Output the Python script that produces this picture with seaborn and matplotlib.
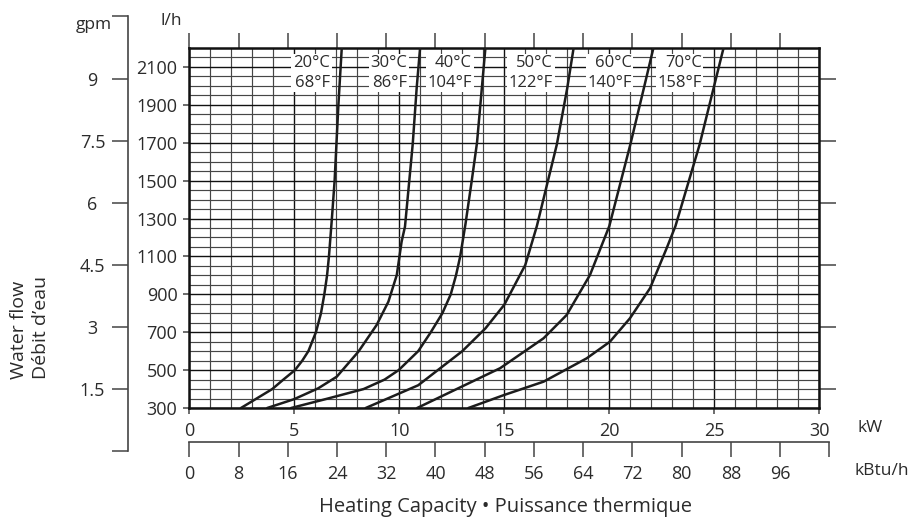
import numpy as np
import pandas as pd
import matplotlib
matplotlib.use("Agg")
import matplotlib.pyplot as plt
import seaborn as sns
from matplotlib.ticker import MultipleLocator, FixedLocator

# ---- data: heating capacity (kW) against water flow (l/h) per water temperature
temps_c = ["20°C", "30°C", "40°C", "50°C", "60°C", "70°C"]
temps_f = ["68°F", "86°F", "104°F", "122°F", "140°F", "158°F"]

kw_20 = [2.46, 3.95, 4.48, 5.03, 5.38, 5.67, 6.03, 6.27, 6.43, 6.56, 6.65, 6.79, 6.92, 7.10, 7.26]
lh_20 = [300, 400, 450, 500, 550, 600, 700, 800, 900, 1000, 1100, 1300, 1500, 1900, 2200]

kw_30 = [3.71, 5.00, 6.14, 7.02, 8.05, 8.92, 9.48, 9.88, 10.11, 10.27, 10.64, 10.83, 10.99]
lh_30 = [300, 347, 404, 465, 597, 738, 861, 1002, 1178, 1257, 1694, 1993, 2200]

kw_40 = [4.85, 6.60, 8.30, 9.30, 9.97, 10.90, 11.50, 12.05, 12.45, 12.70, 12.90, 13.15, 13.45, 13.70, 14.10]
lh_40 = [300, 350, 400, 450, 500, 600, 700, 800, 900, 1000, 1100, 1270, 1500, 1700, 2200]

kw_50 = [8.40, 10.90, 13.00, 14.10, 15.00, 16.00, 16.55, 17.50, 18.00, 18.30]
lh_50 = [300, 420, 600, 720, 845, 1055, 1260, 1690, 1990, 2200]

kw_60 = [10.85, 14.80, 16.87, 17.97, 19.08, 20.00, 21.00, 21.65, 22.10]
lh_60 = [300, 510, 668, 791, 1002, 1260, 1690, 1990, 2200]

kw_70 = [13.29, 15.00, 16.87, 18.92, 20.03, 20.98, 21.94, 22.73, 23.15, 24.30, 24.97, 25.44]
lh_70 = [300, 369, 439, 562, 650, 773, 932, 1143, 1260, 1690, 1990, 2200]

kw_series = [kw_20, kw_30, kw_40, kw_50, kw_60, kw_70]
lh_series = [lh_20, lh_30, lh_40, lh_50, lh_60, lh_70]

kw_ticks = [0, 5, 10, 15, 20, 25, 30]
kbtu_ticks = [0, 8, 16, 24, 32, 40, 48, 56, 64, 72, 80, 88, 96, 104]
lh_ticks = [300, 500, 700, 900, 1100, 1300, 1500, 1700, 1900, 2100]
gpm_ticks = [1.5, 3, 4.5, 6, 7.5, 9]

KBTU_PER_KW = 3.412
LH_PER_GPM = 218.4      # vertical scale of the gpm bracket
GPM_ZERO_LH = 71.4      # l/h level where the gpm bracket starts

rows = []
for tc, xs, ys in zip(temps_c, kw_series, lh_series):
    for x, y in zip(xs, ys):
        rows.append({"curve": tc, "kW": x, "lh": y})
df = pd.DataFrame(rows)

# ---- figure
sns.set_theme(style="white")
plt.rcParams["font.family"] = ["Open Sans", "DejaVu Sans"]
FS = 13
TXT = "#2b2b2b"
AXC = "#444444"
plt.rcParams["font.size"] = FS

W, H = 913, 519
fig = plt.figure(figsize=(W / 100, H / 100), dpi=100)

x0, x1, ytop, ybot = 189.3, 819.3, 48.0, 408.0
ax = fig.add_axes([x0 / W, 1 - ybot / H, (x1 - x0) / W, (ybot - ytop) / H])

sns.lineplot(data=df, x="kW", y="lh", hue="curve", palette=["#1c1c1c"] * 6,
             estimator=None, sort=False, legend=False, linewidth=1.8, ax=ax, zorder=5)

ax.set_xlim(0, 30)
ax.set_ylim(300, 2200)
ax.set_xlabel("")
ax.set_ylabel("")

ax.xaxis.set_major_locator(FixedLocator(kw_ticks))
ax.xaxis.set_minor_locator(MultipleLocator(1))
ax.yaxis.set_major_locator(FixedLocator(lh_ticks))
ax.yaxis.set_minor_locator(MultipleLocator(50))
ax.set_xticklabels([str(v) for v in kw_ticks])
ax.set_yticklabels([str(v) for v in lh_ticks])

ax.grid(which="minor", color="#464646", linewidth=0.85)
ax.grid(which="major", color="#111111", linewidth=1.0)
ax.set_axisbelow(True)

ax.tick_params(which="minor", length=0)
ax.tick_params(axis="x", which="major", direction="out", length=4, width=1.1,
               color=AXC, pad=6, labelsize=FS, labelcolor=TXT, top=False, bottom=True)
ax.tick_params(axis="y", which="major", direction="out", length=4.5, width=1.1,
               color=AXC, pad=4, labelsize=FS, labelcolor=TXT, left=True, right=False)
for s in ax.spines.values():
    s.set_visible(True)
    s.set_color("#111111")
    s.set_linewidth(1.8)

# kBtu/h ticks along the top edge
top = ax.secondary_xaxis("top", functions=(lambda k: k * KBTU_PER_KW, lambda b: b / KBTU_PER_KW))
top.set_xticks(kbtu_ticks[:-1])
top.tick_params(direction="out", length=11, width=1.1, color=AXC, top=True, labeltop=False)
top.spines["top"].set_visible(False)

# gpm ticks along the right edge
right = ax.secondary_yaxis("right", functions=(lambda q: (q - GPM_ZERO_LH) / LH_PER_GPM,
                                               lambda g: g * LH_PER_GPM + GPM_ZERO_LH))
right.set_yticks(gpm_ticks)
right.tick_params(direction="out", length=12, width=1.1, color=AXC, right=True, labelright=False)
right.spines["right"].set_visible(False)

# ---- separate kBtu/h scale below the kW axis
px_per_kw = (x1 - x0) / 30
kb_y = 441.7
kb_w = px_per_kw * kbtu_ticks[-1] / KBTU_PER_KW
axk = fig.add_axes([x0 / W, 1 - kb_y / H, kb_w / W, 0.0001])
axk.set_xlim(0, kbtu_ticks[-1])
axk.set_ylim(0, 1)
axk.set_xticks(kbtu_ticks)
axk.set_xticklabels([str(v) for v in kbtu_ticks[:-1]] + [""])
axk.set_yticks([])
for k, s in axk.spines.items():
    s.set_visible(k == "bottom")
axk.spines["bottom"].set_color(AXC)
axk.spines["bottom"].set_linewidth(1.2)
axk.tick_params(axis="x", direction="out", length=11, width=1.1, color=AXC, bottom=True,
                top=False, pad=6, labelsize=FS, labelcolor=TXT)
axk.patch.set_visible(False)

# ---- separate gpm bracket on the far left
px_per_lh = (ybot - ytop) / 1900
g0_y = ybot + (300 - GPM_ZERO_LH) * px_per_lh
g_top_y = 15.7
g_top = (g0_y - g_top_y) / (px_per_lh * LH_PER_GPM)
gx = 128.0
axg = fig.add_axes([gx / W, 1 - g0_y / H, 0.0001, (g0_y - g_top_y) / H])
axg.set_ylim(0, g_top)
axg.set_xlim(0, 1)
axg.set_yticks([0] + gpm_ticks + [g_top])
axg.set_yticklabels([""] + [f"{v:g}" for v in gpm_ticks] + [""])
axg.set_xticks([])
for k, s in axg.spines.items():
    s.set_visible(k == "left")
axg.spines["left"].set_color(AXC)
axg.spines["left"].set_linewidth(1.2)
axg.tick_params(axis="y", direction="out", length=11.5, width=1.1, color=AXC, left=True,
                right=False, pad=14, labelsize=FS, labelcolor=TXT)
for t in axg.get_yticklabels():
    t.set_horizontalalignment("center")
axg.patch.set_visible(False)

# ---- temperature labels at the top of each curve
label_right_kw = [6.70, 10.37, 13.46, 17.33, 21.07, 24.40]
for xr, tc, tf in zip(label_right_kw, temps_c, temps_f):
    ax.text(xr, 2068, f"{tc}\n{tf}", ha="right", va="center", ma="right",
            fontsize=12, color=TXT, linespacing=1.3, zorder=4,
            bbox=dict(boxstyle="square,pad=0.1", facecolor="white", edgecolor="none"))

# ---- axis titles
fig.text(94 / W, 1 - 25 / H, "gpm", ha="center", va="center", fontsize=12.5, color=TXT)
fig.text(171 / W, 1 - 21 / H, "l/h", ha="center", va="center", fontsize=12.5, color=TXT)
fig.text(870 / W, 1 - 428 / H, "kW", ha="center", va="center", fontsize=12.5, color=TXT)
fig.text(882 / W, 1 - 471 / H, "kBtu/h", ha="center", va="center", fontsize=12.5, color=TXT)
fig.text(505 / W, 1 - 507 / H, "Heating Capacity • Puissance thermique",
         ha="center", va="center", fontsize=14.5, color=TXT)
fig.text(30 / W, 1 - 379 / H, "Water flow\nDébit d’eau", rotation=90,
         ha="center", va="bottom", ma="left", fontsize=14, color=TXT, linespacing=1.3)

fig.savefig("out.png", dpi=100, facecolor="white")
